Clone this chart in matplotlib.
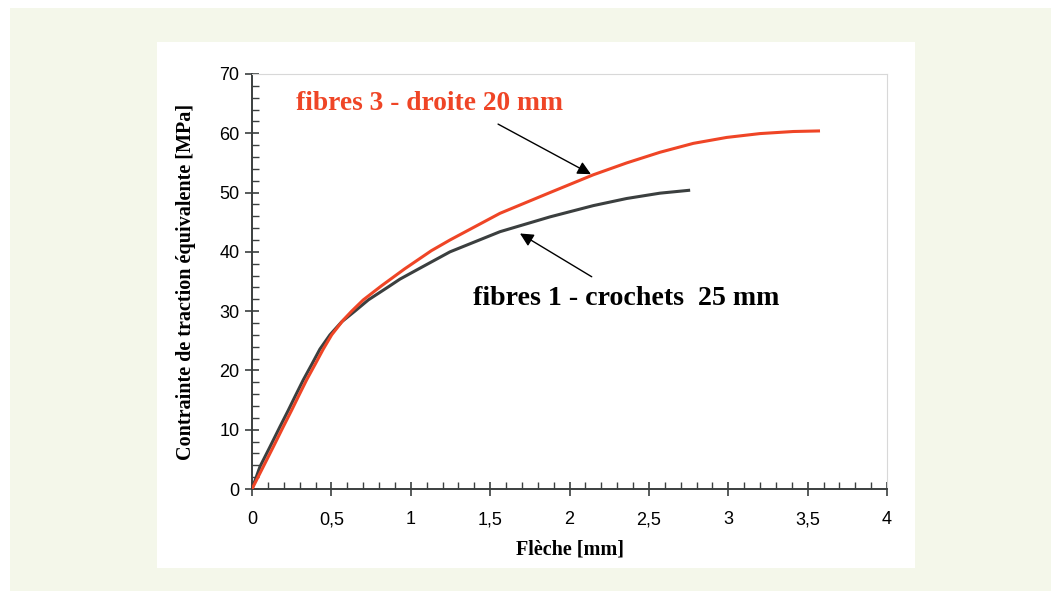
import matplotlib
matplotlib.use("Agg")
import matplotlib.pyplot as plt
from matplotlib.patches import Rectangle
from matplotlib.ticker import MultipleLocator, FuncFormatter

# Data
x_crochets = [0, 0.050, 0.113, 0.176, 0.229, 0.271, 0.323, 0.376, 0.428, 0.491, 0.565, 0.648,
              0.733, 0.859, 0.932, 1.048, 1.247, 1.562, 1.877, 2.15, 2.36, 2.57, 2.76]
y_crochets = [0, 3.76, 7.1, 10.5, 13.3, 15.6, 18.4, 21.0, 23.6, 26.0, 28.2, 30.0,
              31.9, 34.1, 35.4, 37.1, 40.0, 43.4, 45.9, 47.8, 49.0, 49.9, 50.4]

x_droite = [0, 0.071, 0.134, 0.197, 0.25, 0.292, 0.344, 0.397, 0.449, 0.502, 0.575, 0.628,
            0.701, 0.817, 0.96, 1.13, 1.247, 1.562, 1.877, 2.15, 2.36, 2.57, 2.78, 2.99,
            3.2, 3.41, 3.578]
y_droite = [0, 3.76, 7.1, 10.5, 13.3, 15.6, 18.4, 21.0, 23.6, 26.0, 28.5, 30.0,
            31.9, 34.3, 37.1, 40.2, 42.0, 46.5, 50.0, 53.0, 55.0, 56.8, 58.3, 59.3,
            59.95, 60.3, 60.4]

label_droite = "fibres 3 - droite 20 mm"
label_crochets = "fibres 1 - crochets  25 mm"
xlabel = "Flèche [mm]"
ylabel = "Contrainte de traction équivalente [MPa]"

RED = "#ef4526"
DARK = "#3b3f3f"
SERIF = ["Liberation Serif", "DejaVu Serif"]
SANS = ["Liberation Sans", "DejaVu Sans"]

fig = plt.figure(figsize=(10.51, 5.91), dpi=100)
fig.patch.set_facecolor("white")
W, H = 1051, 591
# outer green band and white panel
fig.patches.append(Rectangle((10 / W, 0), 1 - 10 / W, 1 - 8 / H, transform=fig.transFigure,
                             facecolor="#f4f7ea", edgecolor="none", zorder=-10))
fig.patches.append(Rectangle((157 / W, (H - 568) / H), (915 - 157) / W, (568 - 42) / H,
                             transform=fig.transFigure, facecolor="white", edgecolor="none", zorder=-9))

ax = fig.add_axes([252 / W, (H - 489) / H, (887 - 252) / W, (489 - 74) / H])
ax.set_facecolor("none")

ax.plot(x_crochets, y_crochets, color=DARK, lw=2.2, solid_joinstyle="round",
        solid_capstyle="butt", zorder=3)
ax.plot(x_droite, y_droite, color=RED, lw=2.2, solid_joinstyle="round",
        solid_capstyle="butt", zorder=4)

ax.set_xlim(0, 4)
ax.set_ylim(0, 70)
ax.xaxis.set_major_locator(MultipleLocator(0.5))
ax.xaxis.set_minor_locator(MultipleLocator(0.1))
ax.yaxis.set_major_locator(MultipleLocator(10))
ax.yaxis.set_minor_locator(MultipleLocator(2))
ax.xaxis.set_major_formatter(FuncFormatter(lambda v, p: f"{v:g}".replace(".", ",")))

for s in ["left", "bottom"]:
    ax.spines[s].set_color(DARK)
    ax.spines[s].set_linewidth(1.4)
for s in ["top", "right"]:
    ax.spines[s].set_color("#d8d8d8")
    ax.spines[s].set_linewidth(0.8)

ax.tick_params(which="major", direction="inout", length=10, width=1.2, color=DARK,
               labelsize=13, labelcolor="black")
ax.tick_params(which="minor", direction="in", length=5, width=1.0, color=DARK)
ax.tick_params(axis="x", which="major", pad=11)
ax.tick_params(axis="y", which="major", pad=4)
for lab in ax.get_xticklabels() + ax.get_yticklabels():
    lab.set_family(SANS)

ax.set_xlabel(xlabel, family=SERIF, fontweight="bold", fontsize=14.5, labelpad=8)
ax.set_ylabel(ylabel, family=SERIF, fontweight="bold", fontsize=14.5, labelpad=17)

ax.text(0.277, 65.1, label_droite, color=RED, family=SERIF, fontweight="bold",
        fontsize=19.8, ha="left", va="center")
ax.text(1.392, 32.2, label_crochets, color="black", family=SERIF, fontweight="bold",
        fontsize=20.1, ha="left", va="center")

arrow = dict(arrowstyle="-|>", color="black", lw=1.0, mutation_scale=20, shrinkA=0, shrinkB=0)
ax.annotate("", xy=(2.135, 53.1), xytext=(1.55, 61.55), arrowprops=arrow, zorder=5)
ax.annotate("", xy=(1.688, 43.1), xytext=(2.14, 35.8), arrowprops=arrow, zorder=5)

fig.savefig("out.png", dpi=100)
